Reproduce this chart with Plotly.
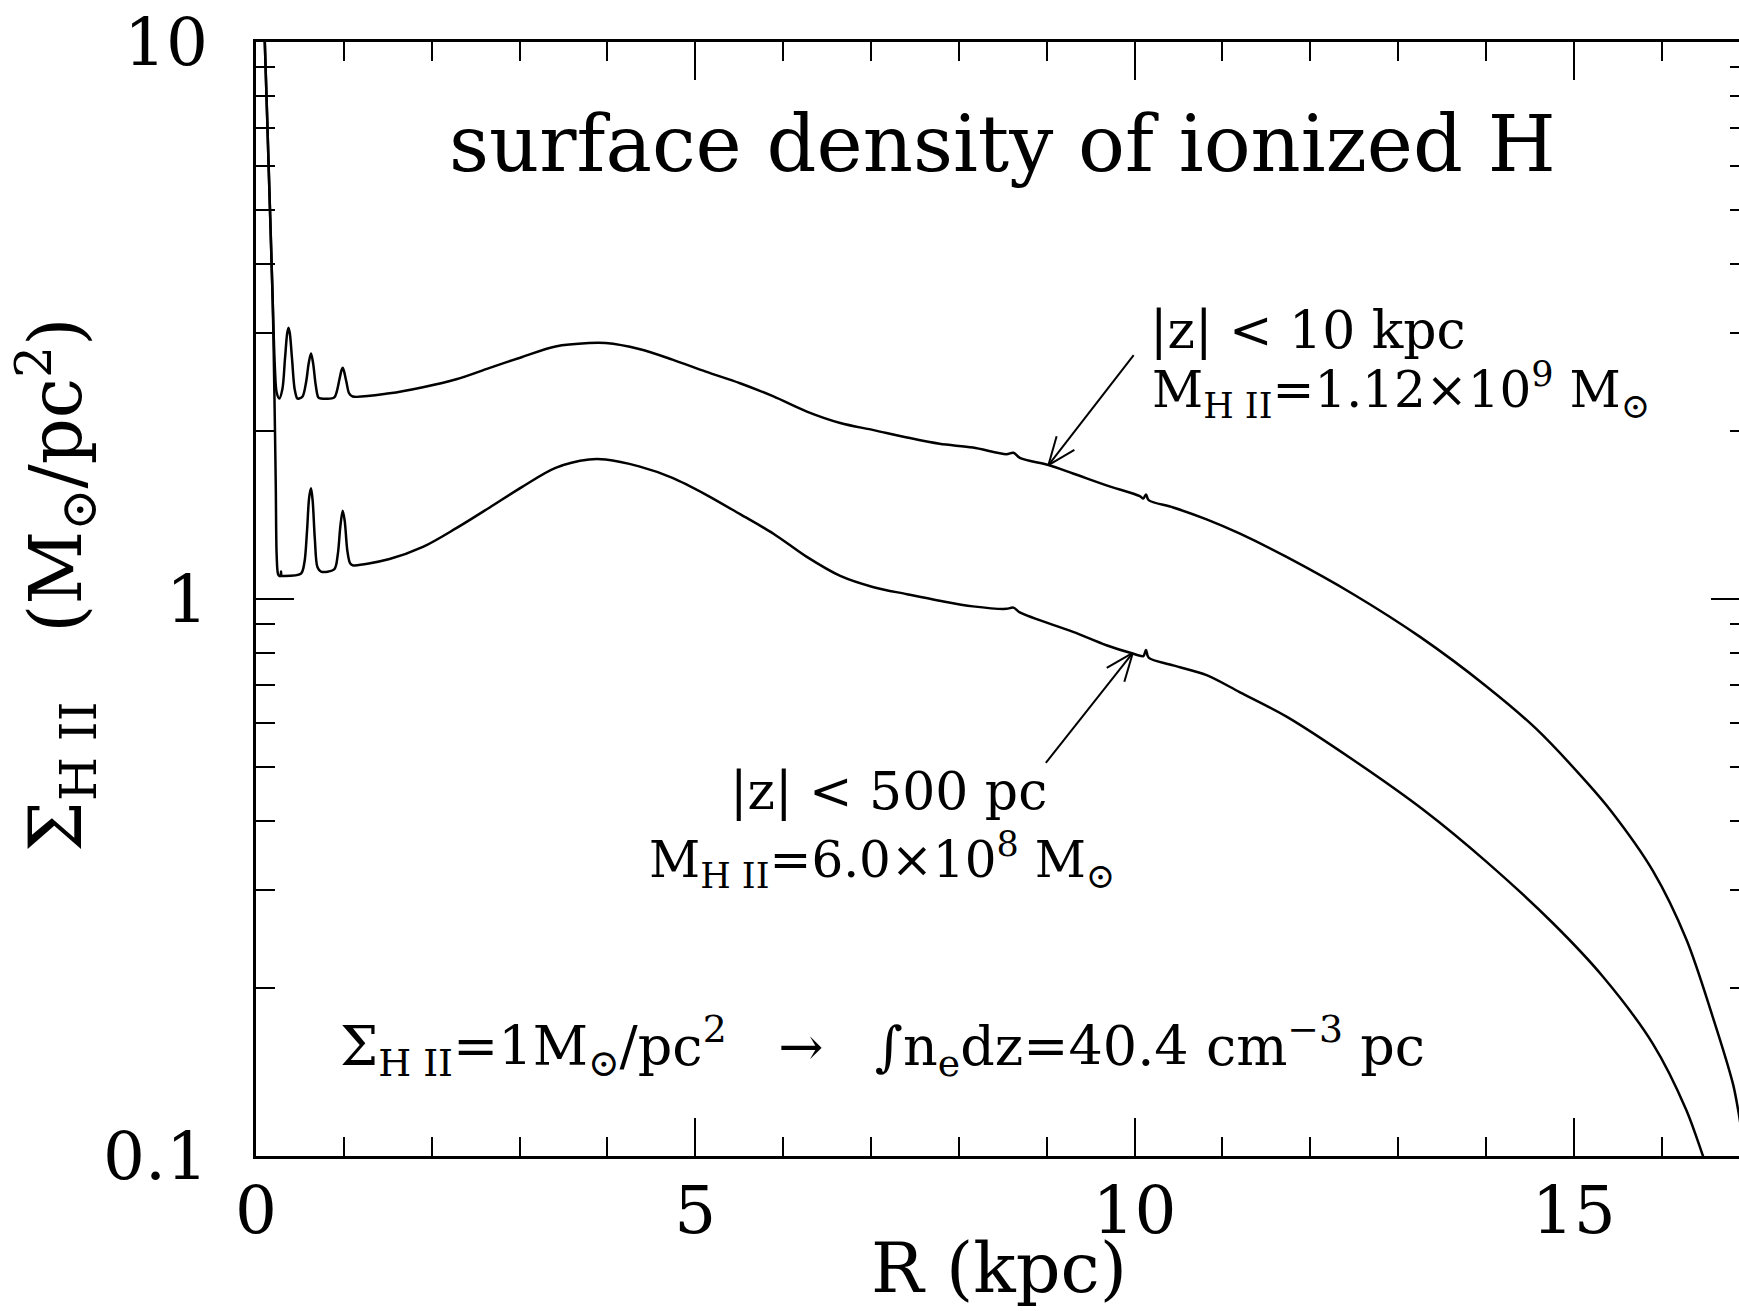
import math
import plotly.graph_objects as go

# Radial profiles of ionized-hydrogen surface density (Msun / pc^2)
R_z10kpc = [0.08, 0.10, 0.145, 0.19, 0.215, 0.235, 0.265, 0.30, 0.33, 0.355, 0.37, 0.385,
            0.41, 0.44, 0.47, 0.49, 0.53, 0.57, 0.60, 0.626, 0.65, 0.68, 0.71, 0.74, 0.89,
            0.92, 0.95, 0.975, 0.987, 1.00, 1.03, 1.06, 1.10, 1.52, 1.90, 2.28, 2.66, 3.03,
            3.41, 3.79, 3.98, 4.36, 4.74, 5.12, 5.51, 5.89, 6.27, 6.65, 7.03, 7.41, 7.78,
            8.16, 8.54, 8.62, 8.70, 9.02, 9.30, 9.68, 10.06, 10.10, 10.13, 10.16, 10.44,
            10.82, 11.20, 11.73, 12.49, 13.25, 14.01, 14.57, 15.14, 15.43, 15.90, 16.28,
            16.58, 16.81, 16.87, 16.95]
S_z10kpc = [12, 10, 5.9, 3.44, 2.6, 2.35, 2.29, 2.38, 2.7, 3.0, 3.07, 3.0,
            2.7, 2.38, 2.29, 2.29, 2.31, 2.45, 2.65, 2.76, 2.65, 2.42, 2.30, 2.29, 2.30,
            2.36, 2.48, 2.58, 2.60, 2.57, 2.45, 2.34, 2.31, 2.34, 2.40, 2.48, 2.60, 2.72,
            2.84, 2.88, 2.88, 2.81, 2.69, 2.56, 2.44, 2.31, 2.17, 2.07, 2.01, 1.95, 1.90,
            1.87, 1.82, 1.83, 1.79, 1.74, 1.68, 1.60, 1.53, 1.515, 1.54, 1.505, 1.46,
            1.39, 1.31, 1.19, 1.02, 0.855, 0.696, 0.585, 0.47, 0.415, 0.325, 0.245,
            0.178, 0.135, 0.121, 0.10]

R_z500pc = [0.08, 0.10, 0.145, 0.19, 0.21, 0.225, 0.235, 0.25, 0.265, 0.28, 0.285, 0.29,
            0.30, 0.51, 0.55, 0.58, 0.605, 0.626, 0.645, 0.67, 0.70, 0.74, 0.89, 0.93,
            0.96, 0.987, 1.01, 1.04, 1.07, 1.10, 1.52, 1.90, 2.28, 2.66, 3.03, 3.41, 3.79,
            3.98, 4.36, 4.74, 5.12, 5.51, 5.89, 6.27, 6.65, 7.03, 7.41, 7.78, 8.16, 8.54,
            8.62, 8.70, 9.30, 9.68, 9.98, 10.10, 10.13, 10.16, 10.44, 10.82, 11.20, 11.73,
            12.49, 13.29, 14.01, 14.76, 15.33, 15.90, 16.28, 16.47, 16.55]
S_z500pc = [12, 10, 5.9, 3.44, 2.3, 1.6, 1.2, 1.11, 1.10, 1.10, 1.12, 1.10,
            1.10, 1.11, 1.16, 1.32, 1.52, 1.58, 1.50, 1.28, 1.14, 1.12, 1.13, 1.20,
            1.35, 1.44, 1.38, 1.22, 1.16, 1.15, 1.18, 1.24, 1.34, 1.46, 1.59, 1.72, 1.78,
            1.78, 1.73, 1.65, 1.54, 1.42, 1.31, 1.19, 1.10, 1.05, 1.02, 0.993, 0.97, 0.96,
            0.965, 0.945, 0.873, 0.826, 0.798, 0.79, 0.81, 0.785, 0.76, 0.73, 0.68, 0.615,
            0.514, 0.418, 0.337, 0.262, 0.210, 0.159, 0.121, 0.10, 0.092]

x_major = [0, 5, 10, 15]
x_minor = [1, 2, 3, 4, 6, 7, 8, 9, 11, 12, 13, 14, 16]
y_major = [0.1, 1, 10]
y_major_text = ["0.1", "1", "10"]
y_minor = [0.2, 0.3, 0.4, 0.5, 0.6, 0.7, 0.8, 0.9, 2, 3, 4, 5, 6, 7, 8, 9]

# arrows: (tip R, tip Sigma, tail R, tail Sigma)
arrow_z10kpc = (9.02, 1.74, 9.99, 2.74)
arrow_z500pc = (9.98, 0.80, 8.99, 0.508)

# page geometry
W, H = 1739, 1311
ML, MR, MT, MB = 256, 0, 42, 155
PW, PH = W - ML - MR, H - MT - MB
X_RANGE = [0, 16.88]
Y_RANGE = [-1, 1]
FONT = "DejaVu Serif"
INK = "black"


def to_px(r, s):
    fx = (r - X_RANGE[0]) / (X_RANGE[1] - X_RANGE[0])
    fy = (math.log10(s) - Y_RANGE[0]) / (Y_RANGE[1] - Y_RANGE[0])
    return ML + fx * PW, MT + (1 - fy) * PH


def px_to_paper(X, Y):
    return (X - ML) / PW, (MT + PH - Y) / PH


fig = go.Figure()
line_style = dict(color=INK, width=2.5, shape="spline", smoothing=0.9)
fig.add_trace(go.Scatter(x=R_z10kpc, y=S_z10kpc, mode="lines", line=line_style,
                         hoverinfo="skip", showlegend=False))
fig.add_trace(go.Scatter(x=R_z500pc, y=S_z500pc, mode="lines", line=line_style,
                         hoverinfo="skip", showlegend=False))
# carrier for the right-hand tick axis
fig.add_trace(go.Scatter(x=R_z10kpc, y=S_z10kpc, mode="lines", yaxis="y2",
                         line=dict(width=0), opacity=0, hoverinfo="skip",
                         showlegend=False))

tick_font = dict(family=FONT, size=66, color=INK)

fig.update_layout(
    width=W, height=H,
    margin=dict(l=ML, r=MR, t=MT, b=MB, pad=0),
    paper_bgcolor="white", plot_bgcolor="white",
    xaxis=dict(range=X_RANGE, showgrid=False, zeroline=False,
               showline=True, linecolor=INK, linewidth=2.5, mirror="ticks",
               ticks="inside", ticklen=38, tickwidth=2, tickcolor=INK,
               tickmode="array", tickvals=x_major,
               ticktext=[str(v) for v in x_major], tickfont=tick_font,
               ticklabelstandoff=-5,
               minor=dict(tickmode="array", tickvals=x_minor, ticks="inside",
                          ticklen=19, tickwidth=2, tickcolor=INK, showgrid=False)),
    yaxis=dict(type="log", range=Y_RANGE, showgrid=False, zeroline=False,
               showline=True, linecolor=INK, linewidth=2.5, mirror=False,
               ticks="inside", ticklen=38, tickwidth=2, tickcolor=INK,
               tickmode="array", tickvals=y_major, ticktext=y_major_text,
               tickfont=tick_font, ticklabelstandoff=32,
               minor=dict(tickmode="array", tickvals=y_minor, ticks="inside",
                          ticklen=19, tickwidth=2, tickcolor=INK, showgrid=False)),
    yaxis2=dict(type="log", range=Y_RANGE, overlaying="y", side="right",
                showgrid=False, zeroline=False, showline=False,
                ticks="inside", ticklen=28, tickwidth=2, tickcolor=INK,
                tickmode="array", tickvals=y_major, showticklabels=False,
                minor=dict(tickmode="array", tickvals=y_minor, ticks="inside",
                           ticklen=9, tickwidth=2, tickcolor=INK, showgrid=False)),
)


def add_text(text, X, Y, size, xanchor="left", angle=0):
    px, py = px_to_paper(X, Y)
    fig.add_annotation(text=text, x=px, y=py, xref="paper", yref="paper",
                       xanchor=xanchor, yanchor="middle", showarrow=False,
                       textangle=angle, font=dict(family=FONT, size=size, color=INK))


NB = "\u00a0"
add_text("surface density of ionized H", 1002, 144, 78, xanchor="center")
add_text("|z| &lt; 10 kpc", 1148, 330, 52)
add_text(f"M<sub>H{NB}II</sub>=1.12×10<sup>9</sup>{NB}M<sub>⊙</sub>", 1150, 390, 50)
add_text("|z| &lt; 500 pc", 728, 791, 52)
add_text(f"M<sub>H{NB}II</sub>=6.0×10<sup>8</sup>{NB}M<sub>⊙</sub>", 647, 860, 50)
add_text(f"Σ<sub>H{NB}II</sub>=1M<sub>⊙</sub>/pc<sup>2</sup>{NB}{NB}{NB}→{NB}{NB}{NB}∫n<sub>e</sub>dz=40.4{NB}cm<sup>−3</sup>{NB}pc",
         338, 1046, 54)
add_text("R (kpc)", 999, 1268, 70, xanchor="center")
add_text(f"Σ<sub>H{NB}II</sub>{NB}{NB}{NB}(M<sub>⊙</sub>/pc<sup>2</sup>)", 56, 585, 72,
         xanchor="center", angle=-90)


def add_arrow(spec, arm=30, half_angle=22):
    tr, ts, sr, ss = spec
    tx, ty = to_px(tr, ts)
    sx, sy = to_px(sr, ss)
    d = math.hypot(sx - tx, sy - ty)
    ux, uy = (sx - tx) / d, (sy - ty) / d
    segs = [((sx, sy), (tx, ty))]
    for sgn in (1, -1):
        a = math.radians(half_angle) * sgn
        rx = ux * math.cos(a) - uy * math.sin(a)
        ry = ux * math.sin(a) + uy * math.cos(a)
        segs.append(((tx, ty), (tx + rx * arm, ty + ry * arm)))
    for (x0, y0), (x1, y1) in segs:
        p0, q0 = px_to_paper(x0, y0)
        p1, q1 = px_to_paper(x1, y1)
        fig.add_shape(type="line", xref="paper", yref="paper",
                      x0=p0, y0=q0, x1=p1, y1=q1,
                      line=dict(color=INK, width=2))


add_arrow(arrow_z10kpc)
add_arrow(arrow_z500pc)

fig.write_html("out.html")
